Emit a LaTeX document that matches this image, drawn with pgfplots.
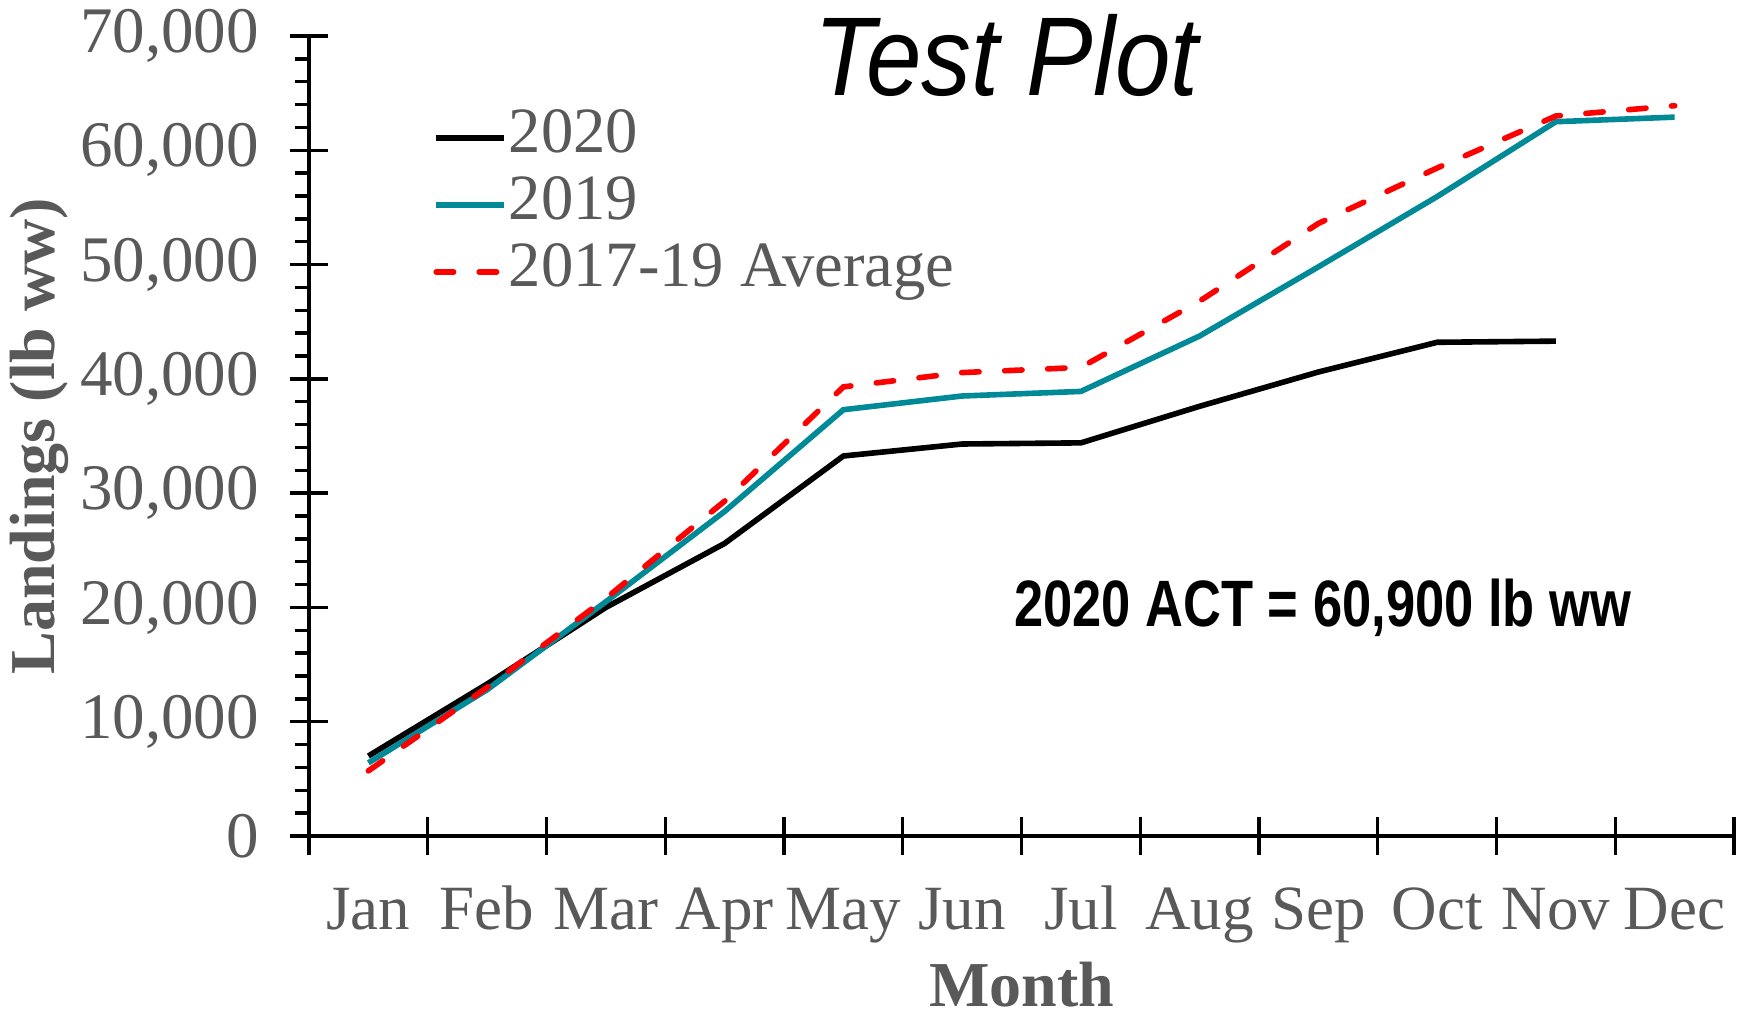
\documentclass[border=0pt]{standalone}
\usepackage{fontspec}
\setmainfont{Liberation Serif}
\newfontfamily\titlefont[FakeStretch=0.89]{Liberation Sans}
\newfontfamily\annfont[FakeStretch=0.80]{Liberation Sans}
\usepackage{pgfplots}
\pgfplotsset{compat=1.18}
\definecolor{txtgray}{HTML}{595959}
\definecolor{teal19}{RGB}{0,137,150}
\begin{document}
\begin{tikzpicture}
\begin{axis}[
  at={(0,0)}, anchor=south west,
  scale only axis, width=712.5pt, height=400pt,
  xmin=0, xmax=12, ymin=0, ymax=70000,
  axis x line=bottom, axis y line=left,
  axis line style={line width=2pt, -},
  tick style={line width=1.7pt, black},
  tick align=center,
  major tick length=19pt,
  minor tick length=7pt,
  minor y tick style={xshift=-3.5pt},
  xtick={0,...,12}, xticklabels={},
  extra x ticks={0.5,1.5,...,11.5},
  extra x tick labels={Jan,Feb,Mar,Apr,May,Jun,Jul,Aug,Sep,Oct,Nov,Dec},
  extra x tick style={major tick length=0pt},
  ytick={0,10000,...,70000},
  minor y tick num=4,
  scaled y ticks=false,
  /pgf/number format/fixed,
  /pgf/number format/1000 sep={,},
  /pgf/number format/assume math mode=true,
  tick label style={font=\fontsize{31.5}{37}\selectfont, text=txtgray},
  xticklabel style={anchor=base, yshift=-46.5pt},
  yticklabel style={anchor=east, xshift=-12pt, font=\fontsize{32.5}{38}\selectfont},
  title={\titlefont\itshape Test Plot},
  title style={at={(rel axis cs:0.4895,0.91)}, anchor=base, font=\fontsize{56}{62}\selectfont},
  xlabel={Month},
  xlabel style={at={(axis description cs:0.5,0)}, anchor=base, yshift=-85pt, font=\fontsize{32}{38}\selectfont\bfseries, text=txtgray},
  ylabel={Landings (lb ww)},
  ylabel style={at={(rel axis cs:-0.189,0.5)}, anchor=center, rotate=0, font=\fontsize{32}{38}\selectfont\bfseries, text=txtgray},
  legend cell align=left,
  legend style={at={(axis description cs:0.087,0.915)}, anchor=north west, draw=none, fill=none,
    font=\fontsize{32.3}{38}\selectfont, text=txtgray, row sep=0pt, inner sep=0pt,
    nodes={inner sep=1pt, text height=23pt, text depth=8.5pt},
    /tikz/every even column/.append style={column sep=4pt}},
  legend image code/.code={\draw[#1] (0pt,0pt) -- (34pt,0pt);},
  clip=false,
]
\addplot[black, line width=2.8pt] coordinates {
  (0.5,7000) (1.5,13300) (2.5,20000) (3.5,25600) (4.5,33250) (5.5,34300)
  (6.5,34400) (7.5,37600) (8.5,40600) (9.5,43200) (10.5,43300)};
\addlegendentry{2020}
\addplot[teal19, line width=2.8pt] coordinates {
  (0.5,6400) (1.5,12800) (2.5,20500) (3.5,28400) (4.5,37300) (5.5,38500)
  (6.5,38900) (7.5,43750) (8.5,49800) (9.5,55950) (10.5,62500) (11.5,62900)};
\addlegendentry{2019}
\addplot[red, line width=2.8pt, dash pattern=on 8.7pt off 12.8pt, line cap=round] coordinates {
  (0.5,5700) (1.5,13000) (2.5,20800) (3.5,29300) (4.5,39300) (5.5,40550)
  (6.5,41000) (7.5,46800) (8.5,53600) (9.5,58450) (10.5,63000) (11.5,63900)};
\addlegendentry{2017-19 Average}
\node[anchor=base, font=\annfont\bfseries\fontsize{32.8}{38}\selectfont] at (axis cs:8.536,18290) {2020 ACT = 60,900 lb ww};
\end{axis}
\pgfresetboundingbox
\useasboundingbox (-154.5pt,-91pt) rectangle (720.5pt,418pt);
\end{tikzpicture}
\end{document}
